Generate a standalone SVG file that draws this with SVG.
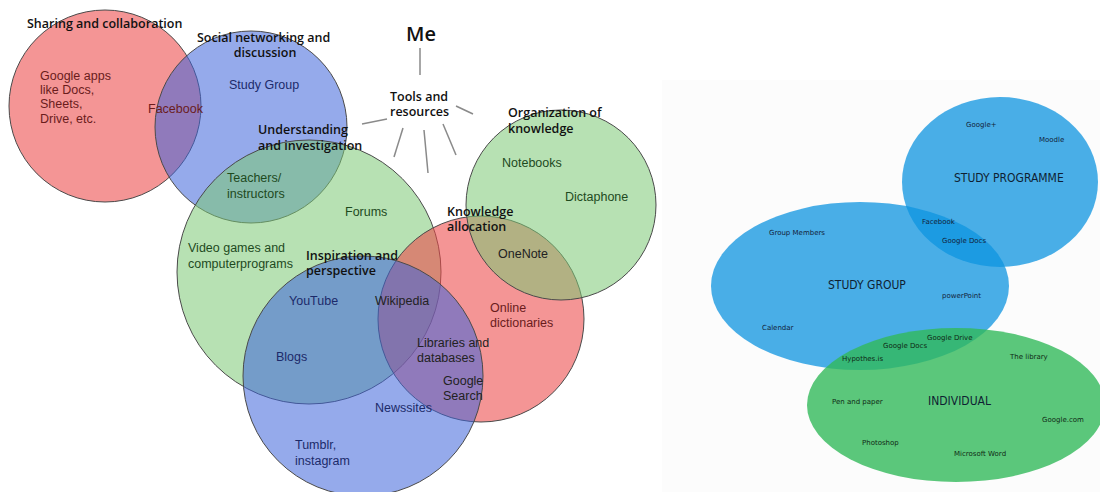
<svg xmlns="http://www.w3.org/2000/svg" width="1100" height="492" viewBox="0 0 1100 492">
<style>
.c{stroke:#4a4a4a;stroke-width:1}
.r{fill:rgb(236,72,72);fill-opacity:0.58}
.b{fill:rgb(62,100,219);fill-opacity:0.55}
.g{fill:rgb(124,200,117);fill-opacity:0.55}
.h{font-family:"Open Sans","DejaVu Sans",sans-serif;font-weight:600;font-size:12.5px;fill:#111}
.t{font-family:"Liberation Sans",Arial,sans-serif;font-size:12.5px}
.tr{fill:#6a1c1c}.tb{fill:#1c2a6a}.tg{fill:#1e4a1e}.tk{fill:#222}
.ln{stroke:#8a8a8a;stroke-width:1.5;fill:none}
.eb{fill:rgb(13,148,224);fill-opacity:0.75}
.eg{fill:rgb(50,185,90);fill-opacity:0.8}
.s{font-family:"DejaVu Sans",Verdana,sans-serif;font-size:7px;fill:#12233a}
.sg{font-family:"DejaVu Sans",Verdana,sans-serif;font-size:7px;fill:#0f2a14}
.L{font-family:"DejaVu Sans Condensed","DejaVu Sans",sans-serif;font-size:12px;fill:#0f1f33}
</style>
<rect x="0" y="0" width="1100" height="492" fill="#ffffff"/>
<rect x="662" y="80" width="438" height="412" fill="#fcfcfc"/>
<g id="circle-sharing"><circle class="c r" cx="105" cy="106" r="96"/></g>
<g id="circle-social"><circle class="c b" cx="251" cy="127" r="96"/></g>
<g id="circle-understanding"><circle class="c g" cx="309" cy="272" r="132"/></g>
<g id="circle-knowledge"><circle class="c r" cx="481" cy="319" r="103"/></g>
<g id="circle-organization"><circle class="c g" cx="561" cy="205" r="95"/></g>
<g id="circle-inspiration"><circle class="c b" cx="363" cy="376" r="120"/></g>
<g id="connectors">
<line class="ln" x1="420" y1="48" x2="420" y2="75"/>
<line class="ln" x1="387" y1="119" x2="362" y2="124"/>
<line class="ln" x1="403" y1="128" x2="394" y2="157"/>
<line class="ln" x1="424" y1="130" x2="428" y2="173"/>
<line class="ln" x1="443" y1="124" x2="456" y2="155"/>
<line class="ln" x1="456" y1="106" x2="473" y2="114"/>
</g>
<g id="me"><text x="406" y="41" font-family="'Open Sans','DejaVu Sans',sans-serif" font-weight="600" font-size="20" fill="#111">Me</text></g>
<g id="tools"><text class="h" x="390" y="101">Tools and</text><text class="h" x="390" y="116">resources</text></g>
<g id="labels-left">
<text class="h" x="27" y="28">Sharing and collaboration</text>
<text class="h" x="197" y="42">Social networking and</text>
<text class="h" x="265" y="57" text-anchor="middle">discussion</text>
<text class="h" x="258" y="134">Understanding</text>
<text class="h" x="258" y="150">and investigation</text>
<text class="h" x="306" y="260">Inspiration and</text>
<text class="h" x="306" y="275">perspective</text>
<text class="h" x="447" y="216">Knowledge</text>
<text class="h" x="447" y="231">allocation</text>
<text class="h" x="508" y="117">Organization of</text>
<text class="h" x="508" y="133">knowledge</text>
</g>
<g id="items-left">
<text class="t tr" x="40" y="80">Google apps</text>
<text class="t tr" x="40" y="94">like Docs,</text>
<text class="t tr" x="40" y="108">Sheets,</text>
<text class="t tr" x="40" y="123">Drive, etc.</text>
<text class="t tr" x="148" y="113">Facebook</text>
<text class="t tb" x="229" y="89">Study Group</text>
<text class="t tg" x="227" y="182">Teachers/</text>
<text class="t tg" x="227" y="198">instructors</text>
<text class="t tg" x="345" y="216">Forums</text>
<text class="t tg" x="188" y="252">Video games and</text>
<text class="t tg" x="188" y="268">computerprograms</text>
<text class="t tb" x="289" y="305">YouTube</text>
<text class="t tk" x="375" y="305">Wikipedia</text>
<text class="t tb" x="276" y="361">Blogs</text>
<text class="t tk" x="417" y="347">Libraries and</text>
<text class="t tk" x="417" y="362">databases</text>
<text class="t tk" x="443" y="385">Google</text>
<text class="t tk" x="443" y="400">Search</text>
<text class="t tb" x="375" y="412">Newssites</text>
<text class="t tb" x="295" y="449">Tumblr,</text>
<text class="t tb" x="295" y="465">instagram</text>
<text class="t tr" x="490" y="312">Online</text>
<text class="t tr" x="490" y="327">dictionaries</text>
<text class="t tk" x="498" y="258">OneNote</text>
<text class="t tg" x="502" y="167">Notebooks</text>
<text class="t tg" x="565" y="201">Dictaphone</text>
</g>
<g id="ellipse-study-programme"><ellipse class="eb" cx="1000" cy="182" rx="98" ry="85"/></g>
<g id="ellipse-study-group"><ellipse class="eb" cx="860" cy="286" rx="149" ry="84"/></g>
<g id="ellipse-individual"><ellipse class="eg" cx="956" cy="405" rx="149" ry="77"/></g>
<g id="labels-right">
<text class="L" x="954" y="182">STUDY PROGRAMME</text>
<text class="L" x="828" y="289">STUDY GROUP</text>
<text class="L" x="928" y="405">INDIVIDUAL</text>
<text class="s" x="966" y="127">Google+</text>
<text class="s" x="1039" y="142">Moodle</text>
<text class="s" x="922" y="224">Facebook</text>
<text class="s" x="942" y="243">Google Docs</text>
<text class="s" x="769" y="235">Group Members</text>
<text class="s" x="942" y="298">powerPoint</text>
<text class="s" x="762" y="330">Calendar</text>
<text class="sg" x="927" y="340">Google Drive</text>
<text class="sg" x="883" y="348">Google Docs</text>
<text class="sg" x="842" y="361">Hypothes.is</text>
<text class="sg" x="1010" y="359">The library</text>
<text class="sg" x="832" y="404">Pen and paper</text>
<text class="sg" x="1042" y="422">Google.com</text>
<text class="sg" x="862" y="445">Photoshop</text>
<text class="sg" x="954" y="456">Microsoft Word</text>
</g>
</svg>
